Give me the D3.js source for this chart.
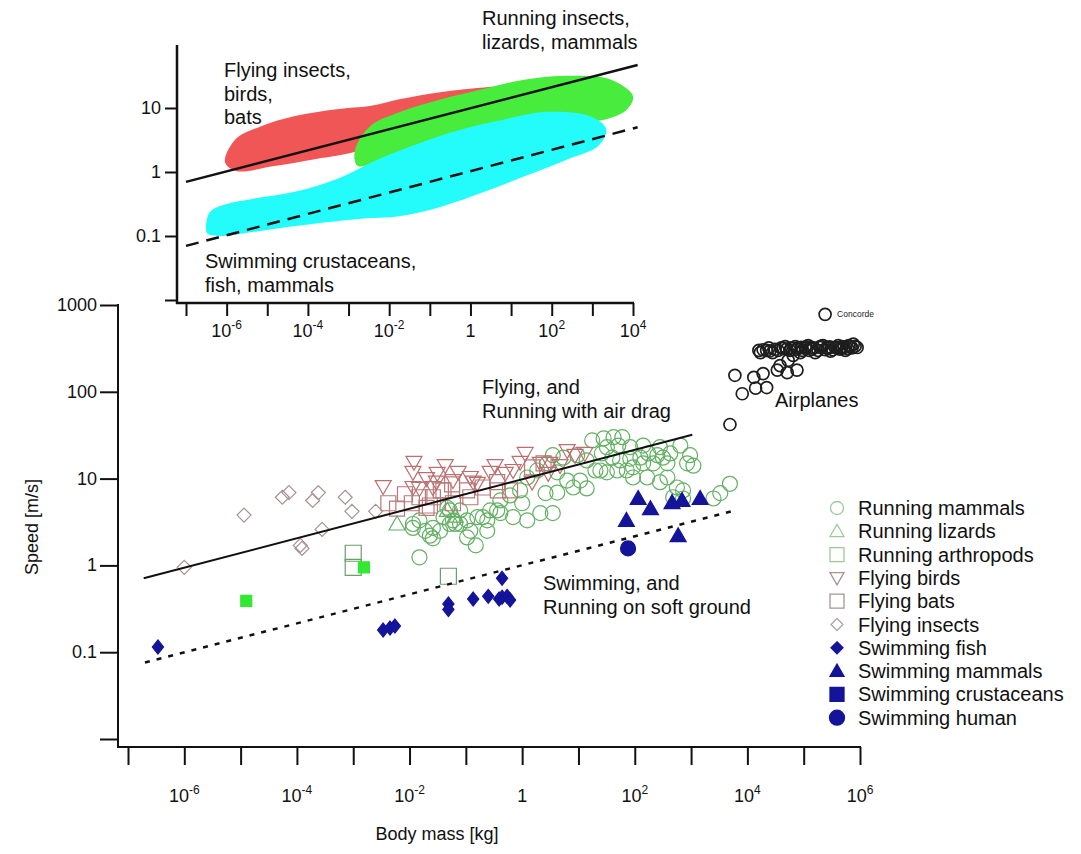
<!DOCTYPE html>
<html>
<head>
<meta charset="utf-8">
<script src="https://cdn.jsdelivr.net/npm/d3@7"></script>
<style>
  body { margin: 0; background: #fff; }
  svg { display: block; font-family: "Liberation Sans", Arial, sans-serif; }
</style>
</head>
<body>
<svg id="chart" width="1081" height="854"></svg>
<script>
// ---- data: [body mass kg, speed m/s] ----
const runningMammals = [
  [1.5e-2,3.3],[1.15e-2,2.7],[1.9e-2,2.5],[2.3e-2,2.2],[2.6e-2,2.05],[1.5e-2,1.24],[4.7e-2,4.6],
  [7.9e-2,4.3],[5.2e-2,3.0],[7.9e-2,3.0],[0.105,2.1],[0.2,3.6],[0.24,2.5],[0.36,4.3],[5.9e-2,3.3],
  [4.0e-2,3.6],[2.6e-2,2.7],[28,29],[42,30],[60,30],[32,23],[51,24],[83,23],[26,19.5],[40,17.4],
  [55,16.2],[83,17],[126,17.4],[174,19.5],[251,18.6],[316,17.4],[427,19.5],[645,24],[850,15],
  [1100,14.1],[380,15],[214,15],[141,15],[93,13.5],[72,12.4],[49,12.4],[32,11.8],[24.5,12.4],
  [14,16.2],[9.5,18.6],[5.4,17.4],[3.5,18.6],[2.8,15],[4.2,11.8],[6.3,9.5],[10.7,9.5],[14,7.7],
  [8.1,7.9],[4.2,6.9],[2.6,6.8],[1.85,12.4],[1.23,10.3],[0.92,7.3],[0.61,6.4],[1.0,5.2],[0.41,5.6],
  [0.27,4.3],[0.16,3.6],[0.24,3.3],[0.12,2.5],[0.105,3.3],[5.2e-2,4.3],[3.5e-2,2.5],[1.15e-2,3.0],
  [6.5e-2,3.0],[0.69,3.6],[1.23,3.3],[2.1,4.0],[3.5,4.0],[0.41,4.0],[560,7.9],[720,7.3],[380,10.3],
  [280,9.1],[166,10.3],[93,10.3],[3300,6.8],[4900,8.7],[2500,5.9],[480,6.1],[720,5.9],[17.5,27.5],
  [20,12.4],[141,24],[280,23],[960,18.6],[0.15,1.7]
];
const runningLizards = [[6.0e-3,3.0],[6.5e-2,3.7],[4.7e-2,4.3]];
const runningArthropods = [[1.0e-3,1.38],[1.0e-3,0.95],[4.9e-2,0.75]];
const flyingBirds = [
  [3.4e-3,8.1],[1.15e-2,11.8],[3.1e-2,11.5],[7.3e-2,11.8],[1.15e-2,7.9],[2.6e-2,7.9],[5.9e-2,9.5],
  [0.135,9.1],[0.33,14.1],[1.2e-2,15.4],[3.0e-2,9.1],[0.16,8.8],[0.69,12.4],[1.13,19.5],[1.5,9.1],
  [2.9,11.5],[6.3,21],[8.7,18.5],[13,19.5],[4.7,14.1],[0.27,11.8],[0.12,10.3],[1.5e-2,7.7],[2.1,15],
  [3.1,15],[0.92,15.4],[0.5,11.5],[2.0e-2,10],[4.3e-2,14.1]
];
const flyingBats = [
  [4.2e-3,5.2],[6.0e-3,4.5],[8.3e-3,6.6],[1.1e-2,5.2],[1.5e-2,6.1],[2.0e-2,4.6],[2.6e-2,6.1],
  [4.0e-2,7.3],[5.7e-2,8.6],[5.9e-2,5.2],[0.105,7.3],[0.12,6.1],[0.2,7.9],[0.36,9.1],[0.37,7.3],
  [0.61,7.3],[1.5,13.5],[2.4,15],[2.3e-2,4.9],[3.6e-2,7.3]
];
const flyingInsects = [
  [1.0e-6,0.95],[1.15e-5,3.8],[5.5e-5,6.1],[7.2e-5,6.9],[1.9e-4,5.6],[2.4e-4,6.9],[7.2e-4,6.1],
  [9.5e-4,4.2],[1.15e-4,1.7],[1.23e-4,1.57],[2.8e-4,2.6],[2.5e-3,4.2]
];
const swimmingFish = [
  [3.4e-7,0.115],[3.4e-3,0.18],[4.5e-3,0.19],[5.5e-3,0.2],[4.9e-2,0.36],[4.9e-2,0.31],[0.135,0.41],
  [0.25,0.44],[0.44,0.43],[0.54,0.44],[0.44,0.71],[0.39,0.41],[0.61,0.40]
];
const swimmingMammals = [[71,3.3],[115,5.9],[190,4.5],[460,5.3],[690,5.6],[1450,5.9],[590,2.2]];
const swimmingCrustaceans = [[1.26e-5,0.39],[1.55e-3,0.95]];
const swimmingHuman = [[76,1.57]];
const airplanes = [
  [4.9e3,42],[6.0e3,155],[8.1e3,95],[1.3e4,147],[1.4e4,110],[1.9e4,162],[2.2e4,112],[3.4e4,178],
  [5.1e4,166],[7.6e4,178],[3.8e4,200],[5.3e4,230],[6.5e4,263],[2.2e4,300],[3.1e4,309],[4.3e4,316],
  [5.7e4,300],[7.6e4,309],[1.07e5,316],[1.4e5,309],[1.95e5,324],[2.7e5,316],[3.6e5,324],[4.8e5,332],
  [6.7e5,332],[8.9e5,324],[2.8e4,282],[8.7e4,282],[1.6e5,282],[3.0e5,294],[5.5e5,300],[1.7e4,282],
  [1.2e5,341],[2.2e5,341],[4.1e5,341],[4.7e4,332],[7.1e4,332],[7.6e5,355],
  [2.5e4,295],[3.5e4,300],[4.0e4,320],[5.0e4,310],[6.0e4,320],[6.9e4,305],[8.0e4,320],[9.5e4,300],
  [1.1e5,330],[1.25e5,300],[1.5e5,320],[1.8e5,300],[2.0e5,335],[2.4e5,305],[2.9e5,330],[3.3e5,305],
  [3.9e5,320],[4.4e5,310],[5.2e5,325],[6.0e5,315],[7.2e5,320],[8.2e5,335],[1.9e4,305],[2.4e4,320],
  [1.6e4,300],[9.0e4,325],[1.35e5,325],[2.6e5,325],[4.6e5,320],[6.3e5,340]
];
const concorde = [[2.4e5,780]];

// scaling lines, main plot
const flyingLine = [[1.9e-7,0.71],[1.05e3,32]];
const swimmingLine = [[2.0e-7,0.076],[6.0e3,4.3]];

// inset: blob outlines and lines
const flyingBlob = [
  [9.1e-7,1.43],[1.7e-6,3.3],[7.1e-6,5.2],[4.8e-5,7.5],[5.2e-4,9.6],[3.4e-3,10.7],[1.9e-2,13.8],
  [0.2,17.8],[2.2,21],[7.2,20.5],[1.7,9.6],[5.8e-2,4.7],[1.4e-3,2.05],[1.6e-4,1.6],[1.5e-5,1.24],[1.7e-6,1.04]
];
const runningBlob = [
  [1.4e-3,1.6],[1.55e-3,2.55],[3.4e-3,5.2],[1.9e-2,8.7],[0.2,13.8],[2.2,20],[23,28],[257,32],
  [2.8e3,28],[1.0e4,15.4],[7.2e3,9.6],[2.2e3,6.7],[162,5.6],[1.7,3.3],[5.8e-2,2.1],[5.6e-3,1.43],[1.7e-3,1.24]
];
const swimmingBlob = [
  [3.1e-7,0.129],[3.9e-7,0.237],[1.0e-6,0.316],[4.3e-6,0.38],[4.8e-5,0.49],[5.2e-4,0.78],[5.6e-3,1.6],
  [6.2e-2,2.9],[0.66,4.7],[7.2,6.7],[78,8.7],[850,7.5],[2.2e3,4.7],[1.4e3,2.55],[257,1.6],[23,0.87],
  [2.2,0.49],[0.2,0.29],[1.9e-2,0.205],[1.7e-3,0.185],[4.8e-5,0.143],[4.3e-6,0.115],[8.1e-7,0.1],[3.5e-7,0.107]
];
const insetSolidLine = [[1e-7,0.70],[1.3e4,47]];
const insetDashedLine = [[1e-7,0.07],[1.3e4,5.0]];

// ticks
const massTicks = [1e-7,1e-6,1e-5,1e-4,1e-3,1e-2,1e-1,1,10,1e2,1e3,1e4,1e5,1e6];
const massLabels = [1e-6,1e-4,1e-2,1,1e2,1e4,1e6];
const speedTicks = [0.01,0.1,1,10,100,1000];
const speedLabels = ["0.1","1","10","100","1000"];
const insetMassTicks = [1e-7,1e-6,1e-5,1e-4,1e-3,1e-2,1e-1,1,10,1e2,1e3,1e4];
const insetMassLabels = [1e-6,1e-4,1e-2,1,1e2,1e4];
const insetSpeedTicks = [0.01,0.1,1,10];
const insetSpeedLabels = ["0.1","1","10"];

// ---- marker shapes (size = half width) ----
const shapes = {
  circle:  { draw(c, r) { c.moveTo(r, 0); c.arc(0, 0, r, 0, 2 * Math.PI); } },
  square:  { draw(c, r) { c.rect(-r, -r, 2 * r, 2 * r); } },
  triUp:   { draw(c, r) { c.moveTo(0, -r); c.lineTo(r, r * 0.75); c.lineTo(-r, r * 0.75); c.closePath(); } },
  triDown: { draw(c, r) { c.moveTo(0, r); c.lineTo(r, -r * 0.75); c.lineTo(-r, -r * 0.75); c.closePath(); } },
  diamond: { draw(c, r) { c.moveTo(0, -r); c.lineTo(r, 0); c.lineTo(0, r); c.lineTo(-r, 0); c.closePath(); } },
  diamondTall: { draw(c, r) { c.moveTo(0, -r); c.lineTo(r * 0.8, 0); c.lineTo(0, r); c.lineTo(-r * 0.8, 0); c.closePath(); } }
};

const navy = "#14149a";
const series = [
  { name: "Running mammals", data: runningMammals, shape: "circle", r: 7.5, fill: "none", stroke: "#63b063", lr: 6.5, lfill: "none", lstroke: "#9cc99c" },
  { name: "Running lizards", data: runningLizards, shape: "triUp", r: 8, fill: "none", stroke: "#63b063", lr: 7, lfill: "none", lstroke: "#9cc99c" },
  { name: "Running arthropods", data: runningArthropods, shape: "square", r: 8, fill: "none", stroke: "#6a9e6a", lr: 7, lfill: "none", lstroke: "#9cc99c" },
  { name: "Flying birds", data: flyingBirds, shape: "triDown", r: 8, fill: "none", stroke: "#bd6f6f", lr: 7, lfill: "none", lstroke: "#a89494" },
  { name: "Flying bats", data: flyingBats, shape: "square", r: 7.5, fill: "none", stroke: "#b97a7a", lr: 7, lfill: "none", lstroke: "#a89494" },
  { name: "Flying insects", data: flyingInsects, shape: "diamond", r: 7, fill: "none", stroke: "#a89090", lr: 6, lfill: "none", lstroke: "#b0a6a6" },
  { name: "Swimming fish", data: swimmingFish, shape: "diamondTall", r: 7, fill: navy, stroke: navy, lr: 6, lfill: navy, lstroke: navy },
  { name: "Swimming mammals", data: swimmingMammals, shape: "triUp", r: 8, fill: navy, stroke: navy, lr: 7, lfill: navy, lstroke: navy },
  { name: "Swimming crustaceans", data: swimmingCrustaceans, shape: "square", r: 5.5, fill: "#33e833", stroke: "#33e833", lr: 7, lfill: navy, lstroke: navy },
  { name: "Swimming human", data: swimmingHuman, shape: "circle", r: 7.5, fill: navy, stroke: navy, lr: 7.5, lfill: navy, lstroke: navy }
];

const svg = d3.select("#chart");

// ---- main plot scales ----
const x = d3.scaleLog().domain([1e-7, 1e6]).range([128, 860]);
const y = d3.scaleLog().domain([0.01, 1000]).range([739, 305]);
// ---- inset scales ----
const ix = d3.scaleLog().domain([1e-7, 1e4]).range([186, 633]);
const iy = d3.scaleLog().domain([0.01, 10]).range([300, 108]);

// "10" with a raised exponent, or "1" for 10^0
function powLabel(sel, v) {
  const e = Math.round(Math.log10(v));
  if (e === 0) { sel.text("1"); return; }
  sel.append("tspan").text("10");
  sel.append("tspan").attr("dy", -8).attr("font-size", 12).text(e);
}

// ================= INSET =================
const inset = svg.append("g");
const blobLine = d3.line().x(d => ix(d[0])).y(d => iy(d[1])).curve(d3.curveCatmullRomClosed.alpha(0.5));
inset.append("path").attr("d", blobLine(flyingBlob)).attr("fill", "#f05656");
inset.append("path").attr("d", blobLine(runningBlob)).attr("fill", "#48ec3c");
inset.append("path").attr("d", blobLine(swimmingBlob)).attr("fill", "#24fbfb");

const insetLine = d3.line().x(d => ix(d[0])).y(d => iy(d[1]));
inset.append("path").attr("d", insetLine(insetSolidLine)).attr("stroke", "#111").attr("stroke-width", 2.5).attr("fill", "none");
inset.append("path").attr("d", insetLine(insetDashedLine)).attr("stroke", "#111").attr("stroke-width", 2.5)
  .attr("stroke-dasharray", "13,8").attr("fill", "none");

// inset axes
inset.append("g").attr("transform", "translate(0,303)")
  .call(d3.axisBottom(ix).tickValues(insetMassTicks).tickSize(13).tickSizeOuter(0).tickFormat(""))
  .call(g => g.select(".domain").remove())
  .call(g => g.selectAll(".tick line").attr("stroke", "#111").attr("stroke-width", 2));
inset.append("g").attr("transform", "translate(177,0)")
  .call(d3.axisLeft(iy).tickValues(insetSpeedTicks).tickSize(12).tickSizeOuter(0).tickFormat(""))
  .call(g => g.select(".domain").remove())
  .call(g => g.selectAll(".tick line").attr("stroke", "#111").attr("stroke-width", 2));
inset.append("line").attr("x1", 176).attr("x2", ix(1e4) + 1).attr("y1", 303).attr("y2", 303)
  .attr("stroke", "#111").attr("stroke-width", 2.5);
inset.append("line").attr("x1", 177).attr("x2", 177).attr("y1", 45).attr("y2", 304)
  .attr("stroke", "#111").attr("stroke-width", 2.5);

inset.selectAll(".ixlab").data(insetMassLabels).join("text")
  .attr("x", d => ix(d)).attr("y", 337).attr("text-anchor", "middle")
  .attr("font-size", 18).attr("fill", "#111")
  .each(function (d) { powLabel(d3.select(this), d); });
inset.selectAll(".iylab").data(insetSpeedLabels).join("text")
  .attr("x", 161).attr("y", d => iy(+d) + 6).attr("text-anchor", "end")
  .attr("font-size", 18).attr("fill", "#111").text(d => d);

const insetNotes = [
  { lines: ["Running insects,", "lizards, mammals"], x: 482, y: 25 },
  { lines: ["Flying insects,", "birds,", "bats"], x: 224, y: 77 },
  { lines: ["Swimming crustaceans,", "fish, mammals"], x: 205, y: 268 }
];
insetNotes.forEach(n => {
  const t = inset.append("text").attr("x", n.x).attr("y", n.y).attr("font-size", 20).attr("fill", "#111");
  n.lines.forEach((l, i) => t.append("tspan").attr("x", n.x).attr("dy", i ? 23.5 : 0).text(l));
});

// ================= MAIN PLOT =================
const main = svg.append("g");

main.append("g").attr("transform", "translate(0,747)")
  .call(d3.axisBottom(x).tickValues(massTicks).tickSize(18).tickSizeOuter(0).tickFormat(""))
  .call(g => g.select(".domain").remove())
  .call(g => g.selectAll(".tick line").attr("stroke", "#111").attr("stroke-width", 2));
main.append("g").attr("transform", "translate(118,0)")
  .call(d3.axisLeft(y).tickValues(speedTicks).tickSize(18).tickSizeOuter(0).tickFormat(""))
  .call(g => g.select(".domain").remove())
  .call(g => g.selectAll(".tick line").attr("stroke", "#111").attr("stroke-width", 2));
main.append("line").attr("x1", 117).attr("x2", x(1e6) + 1).attr("y1", 747).attr("y2", 747)
  .attr("stroke", "#111").attr("stroke-width", 2);
main.append("line").attr("x1", 118).attr("x2", 118).attr("y1", 304).attr("y2", 748)
  .attr("stroke", "#111").attr("stroke-width", 2);

main.selectAll(".xlab").data(massLabels).join("text")
  .attr("x", d => x(d)).attr("y", 802).attr("text-anchor", "middle")
  .attr("font-size", 18).attr("fill", "#111")
  .each(function (d) { powLabel(d3.select(this), d); });
main.selectAll(".ylab").data(speedLabels).join("text")
  .attr("x", 97).attr("y", d => y(+d) + 6).attr("text-anchor", "end")
  .attr("font-size", 18).attr("fill", "#111").text(d => d);

main.append("text").attr("x", 437).attr("y", 840).attr("text-anchor", "middle")
  .attr("font-size", 18).attr("fill", "#111").text("Body mass [kg]");
main.append("text").attr("transform", "translate(38,527) rotate(-90)").attr("text-anchor", "middle")
  .attr("font-size", 18).attr("fill", "#111").text("Speed [m/s]");

// markers
const sym = d3.symbol();
series.forEach(s => {
  main.append("g").selectAll("path").data(s.data).join("path")
    .attr("transform", d => `translate(${x(d[0])},${y(d[1])})`)
    .attr("d", sym.type(shapes[s.shape]).size(s.r)())
    .attr("fill", s.fill).attr("stroke", s.stroke).attr("stroke-width", 1.2);
});

main.append("g").selectAll("circle").data(airplanes.concat(concorde)).join("circle")
  .attr("cx", d => x(d[0])).attr("cy", d => y(d[1])).attr("r", 6)
  .attr("fill", "none").attr("stroke", "#1e1e1e").attr("stroke-width", 1.7);
main.append("text").attr("x", x(concorde[0][0]) + 12).attr("y", y(concorde[0][1]) + 3)
  .attr("font-size", 8.5).attr("fill", "#222").text("Concorde");

// scaling lines
const mainLine = d3.line().x(d => x(d[0])).y(d => y(d[1]));
main.append("path").attr("d", mainLine(flyingLine)).attr("stroke", "#111").attr("stroke-width", 2).attr("fill", "none");
main.append("path").attr("d", mainLine(swimmingLine)).attr("stroke", "#111").attr("stroke-width", 2.5)
  .attr("stroke-dasharray", "5,7").attr("fill", "none");

// annotations
const notes = [
  { lines: ["Flying, and", "Running with air drag"], x: 482, y: 394 },
  { lines: ["Airplanes"], x: 775, y: 407 },
  { lines: ["Swimming, and", "Running on soft ground"], x: 543, y: 590 }
];
notes.forEach(n => {
  const t = main.append("text").attr("x", n.x).attr("y", n.y).attr("font-size", 20).attr("fill", "#111");
  n.lines.forEach((l, i) => t.append("tspan").attr("x", n.x).attr("dy", i ? 23.5 : 0).text(l));
});

// legend
const legend = main.append("g").attr("transform", "translate(837,508)");
const rows = legend.selectAll("g").data(series).join("g").attr("transform", (d, i) => `translate(0,${i * 23.3})`);
rows.append("path")
  .attr("d", d => sym.type(shapes[d.shape === "diamondTall" ? "diamond" : d.shape]).size(d.lr)())
  .attr("fill", d => d.lfill).attr("stroke", d => d.lstroke).attr("stroke-width", 1.3);
rows.append("text").attr("x", 21).attr("y", 7).attr("font-size", 20).attr("fill", "#111").text(d => d.name);
</script>
</body>
</html>
